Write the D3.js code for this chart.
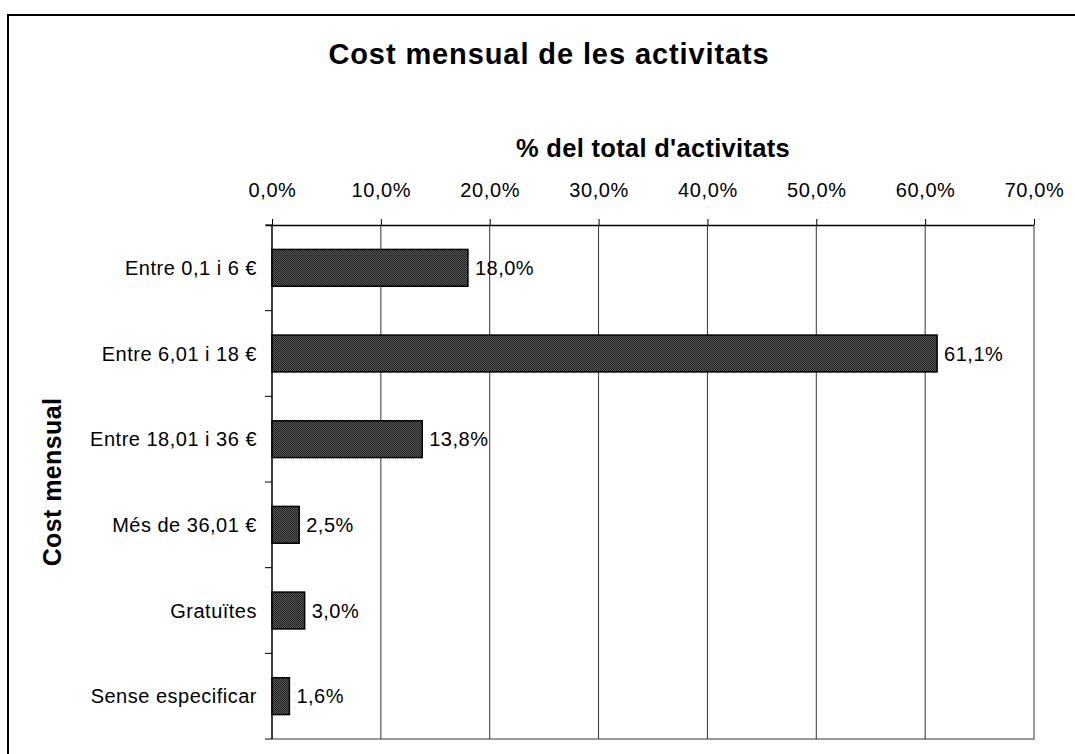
<!DOCTYPE html>
<html>
<head>
<meta charset="utf-8">
<script src="https://cdn.jsdelivr.net/npm/d3@7"></script>
<style>
  html, body { margin: 0; padding: 0; background: #fff; }
  svg { display: block; font-family: "Liberation Sans", Arial, sans-serif; }
</style>
</head>
<body>
<svg id="chart" width="1075" height="754"></svg>
<script>
// ---- Data ----
const categories = [
  "Entre 0,1 i 6 €",
  "Entre 6,01 i 18 €",
  "Entre 18,01 i 36 €",
  "Més de 36,01 €",
  "Gratuïtes",
  "Sense especificar"
];
const values = [18.0, 61.1, 13.8, 2.5, 3.0, 1.6];
const tickValues = [0, 10, 20, 30, 40, 50, 60, 70];
const titleText = "Cost mensual de les activitats";
const xTitleText = "% del total d'activitats";
const yTitleText = "Cost mensual";

// ---- Layout ----
const svg = d3.select("#chart");
const plot = { left: 272, right: 1034, top: 225, bottom: 739 };

const locale = d3.formatLocale({ decimal: ",", thousands: ".", grouping: [3], currency: ["", "€"] });
const fmt = v => locale.format(".1f")(v) + "%";

const x = d3.scaleLinear().domain([0, 70]).range([plot.left, plot.right]);
const y = d3.scaleBand().domain(categories).range([plot.top, plot.bottom])
  .paddingInner(0.57).paddingOuter(0.285);

// pattern for bars
const defs = svg.append("defs");
const pat = defs.append("pattern").attr("id", "dots")
  .attr("width", 2).attr("height", 2).attr("patternUnits", "userSpaceOnUse");
pat.append("rect").attr("width", 2).attr("height", 2).attr("fill", "#5a5a5a");
pat.append("rect").attr("width", 1).attr("height", 1).attr("fill", "#1e1e1e");
pat.append("rect").attr("x", 1).attr("y", 1).attr("width", 1).attr("height", 1).attr("fill", "#1e1e1e");

// outer frame
svg.append("rect").attr("x", 8).attr("y", 15).attr("width", 1100).attr("height", 800)
  .attr("fill", "none").attr("stroke", "#000").attr("stroke-width", 2);

// title
svg.append("text").attr("x", 549).attr("y", 64).attr("text-anchor", "middle")
  .attr("font-size", 29).attr("font-weight", "bold").style("letter-spacing", "0.9px")
  .text(titleText);

// x axis title
svg.append("text").attr("x", (plot.left + plot.right) / 2).attr("y", 157).attr("text-anchor", "middle")
  .attr("font-size", 25.5).attr("font-weight", "bold").style("letter-spacing", "0.3px")
  .text(xTitleText);

// y axis title
svg.append("text").attr("transform", `translate(61,${(plot.top + plot.bottom) / 2}) rotate(-90)`)
  .attr("text-anchor", "middle")
  .attr("font-size", 25).attr("font-weight", "bold").style("letter-spacing", "0.4px")
  .text(yTitleText);

// plot area border (right & bottom gray)
svg.append("path")
  .attr("d", `M${plot.right},${plot.top}V${plot.bottom}H${plot.left}`)
  .attr("fill", "none").attr("stroke", "#999").attr("stroke-width", 2);

// gridlines
svg.append("g").selectAll("line").data(tickValues.filter(t => t > 0 && t < 70)).join("line")
  .attr("x1", d => x(d)).attr("x2", d => x(d))
  .attr("y1", plot.top).attr("y2", plot.bottom)
  .attr("stroke", "#333").attr("stroke-width", 1);

// top axis
const xAxis = d3.axisTop(x).tickValues(tickValues).tickFormat(fmt).tickSize(6).tickPadding(22);
const gx = svg.append("g").attr("transform", `translate(0,${plot.top})`).call(xAxis);
gx.select(".domain").attr("stroke", "#000").attr("stroke-width", 1.5).attr("d", `M${plot.left - 6},0.5H${plot.right}`);
gx.selectAll(".tick line").attr("stroke", "#000");
gx.selectAll(".tick text").attr("font-size", 20).attr("fill", "#000")
  .style("font-family", "'Liberation Sans', Arial, sans-serif").style("letter-spacing", "0.6px");

// left axis (band boundaries)
const bounds = d3.range(categories.length + 1).map(i => plot.top + i * y.step());
const gy = svg.append("g");
gy.append("line").attr("x1", plot.left).attr("x2", plot.left)
  .attr("y1", plot.top).attr("y2", plot.bottom).attr("stroke", "#000").attr("stroke-width", 1.5);
gy.selectAll("line.t").data(bounds).join("line").attr("class", "t")
  .attr("x1", plot.left - 7).attr("x2", plot.left).attr("y1", d => d).attr("y2", d => d)
  .attr("stroke", "#000").attr("stroke-width", 1);
gy.selectAll("text").data(categories).join("text")
  .attr("x", 257).attr("y", d => y(d) + y.bandwidth() / 2).attr("dy", "0.35em")
  .attr("text-anchor", "end").attr("font-size", 20).style("letter-spacing", "0.5px")
  .text(d => d);

// bars
const data = categories.map((c, i) => ({ c, v: values[i] }));
svg.append("g").selectAll("rect").data(data).join("rect")
  .attr("x", x(0)).attr("y", d => y(d.c))
  .attr("width", d => x(d.v) - x(0)).attr("height", y.bandwidth())
  .attr("fill", "url(#dots)").attr("stroke", "#000").attr("stroke-width", 1.5);

// value labels
svg.append("g").selectAll("text").data(data).join("text")
  .attr("x", d => x(d.v) + 7).attr("y", d => y(d.c) + y.bandwidth() / 2).attr("dy", "0.35em")
  .attr("font-size", 20).style("letter-spacing", "0.5px")
  .text(d => fmt(d.v));
</script>
</body>
</html>
